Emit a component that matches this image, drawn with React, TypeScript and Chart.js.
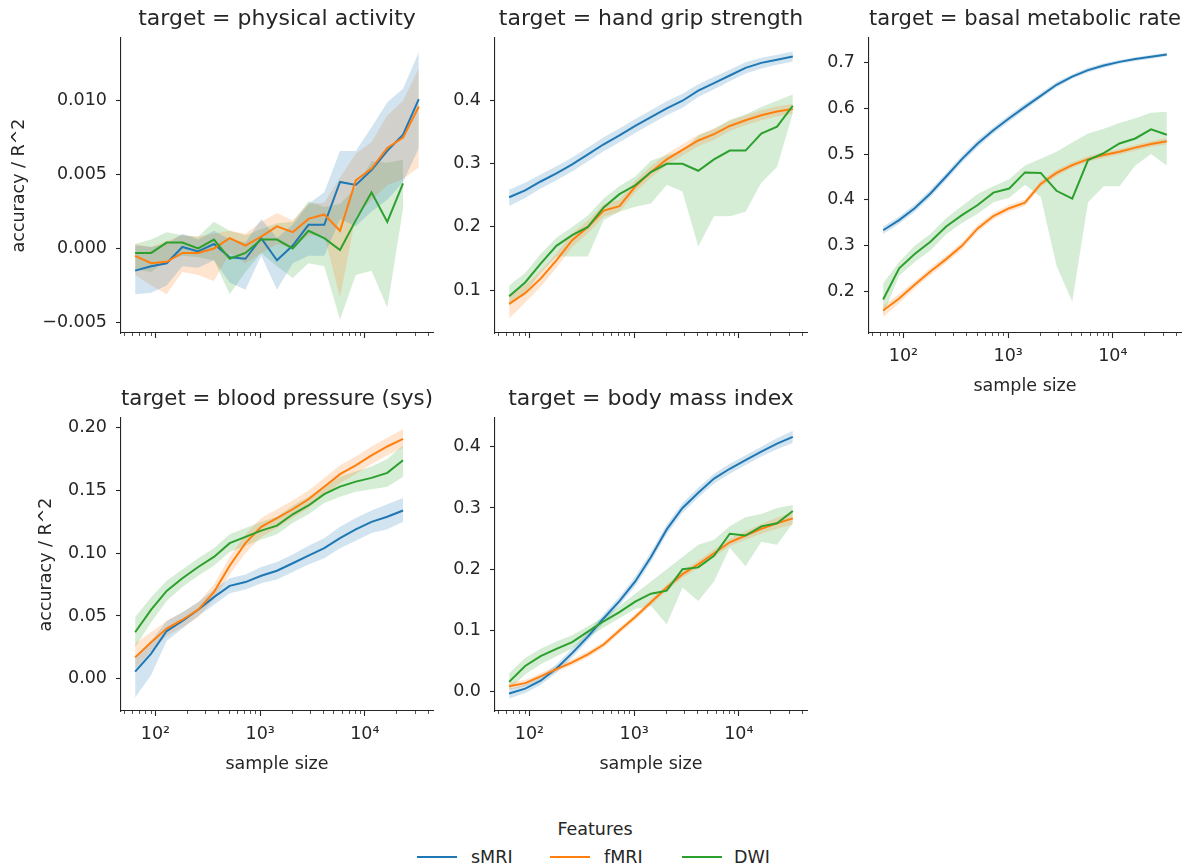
import React, { useEffect, useRef } from 'react';
import { Chart, registerables } from 'chart.js';
Chart.register(...registerables);

const FONT = '"DejaVu Sans", Verdana, sans-serif';
const TEXT = '#262626';
const BLUE = '#1f77b4';
const ORANGE = '#ff7f0e';
const GREEN = '#2ca02c';
const BLUE_BAND = 'rgba(31,119,180,0.2)';
const ORANGE_BAND = 'rgba(255,127,14,0.2)';
const GREEN_BAND = 'rgba(44,160,44,0.2)';

const sampleSizes = [64, 91, 128, 181, 256, 362, 512, 724, 1024, 1448, 2048, 2896, 4096, 5793, 8192, 11585, 16384, 23170, 32768];
const xMajorTicks = [100, 1000, 10000];
const xMajorLabels = ['10²', '10³', '10⁴'];
const xMinorTicks = [50, 60, 70, 80, 90, 200, 300, 400, 500, 600, 700, 800, 900, 2000, 3000, 4000, 5000, 6000, 7000, 8000, 9000, 20000, 30000, 40000];
const seriesNames = ['sMRI', 'fMRI', 'DWI'];

// physical activity
const paTicks = [-0.005, 0.0, 0.005, 0.01];
const paTickLabels = ['−0.005', '0.000', '0.005', '0.010'];
const paSmri = [-0.0015, -0.0012, -0.0010, 0.0001, -0.0002, 0.0003, -0.0006, -0.0007, 0.0007, -0.0008, 0.0002, 0.0016, 0.0016, 0.0045, 0.0043, 0.0053, 0.0066, 0.0077, 0.0101];
const paSmriLo = [-0.0031, -0.0030, -0.0025, -0.0012, -0.0013, -0.0008, -0.0023, -0.0028, -0.0005, -0.0028, -0.0010, -0.0005, -0.0005, 0.0020, 0.0015, 0.0025, 0.0033, 0.0045, 0.0068];
const paSmriHi = [0.0002, 0.0001, 0.0003, 0.0010, 0.0006, 0.0012, 0.0006, 0.0004, 0.0020, 0.0007, 0.0016, 0.0030, 0.0038, 0.0066, 0.0066, 0.0082, 0.0099, 0.0108, 0.0133];
const paFmri = [-0.0005, -0.0010, -0.0009, -0.0003, -0.0003, 0.0000, 0.0007, 0.0002, 0.0008, 0.0015, 0.0011, 0.0020, 0.0023, 0.0012, 0.0046, 0.0054, 0.0068, 0.0075, 0.0096];
const paFmriLo = [-0.0018, -0.0025, -0.0031, -0.0016, -0.0018, -0.0022, -0.0003, -0.0010, -0.0003, 0.0003, 0.0000, 0.0009, 0.0009, -0.0033, 0.0022, 0.0033, 0.0043, 0.0047, 0.0055];
const paFmriHi = [0.0003, 0.0001, 0.0005, 0.0009, 0.0008, 0.0010, 0.0012, 0.0010, 0.0018, 0.0024, 0.0019, 0.0030, 0.0031, 0.0048, 0.0064, 0.0072, 0.0090, 0.0100, 0.0122];
const paDwi = [-0.0003, -0.0003, 0.0004, 0.0004, 0.0000, 0.0006, -0.0007, -0.0003, 0.0006, 0.0006, 0.0000, 0.0012, 0.0007, -0.0001, 0.0019, 0.0038, 0.0018, 0.0044];
const paDwiLo = [-0.0014, -0.0016, -0.0008, -0.0005, -0.0006, -0.0008, -0.0031, -0.0016, -0.0003, -0.0012, -0.0020, -0.0010, -0.0012, -0.0048, -0.0018, -0.0015, -0.0040, 0.0027];
const paDwiHi = [0.0003, 0.0006, 0.0011, 0.0009, 0.0008, 0.0018, 0.0012, 0.0009, 0.0013, 0.0017, 0.0018, 0.0032, 0.0028, 0.0030, 0.0041, 0.0059, 0.0058, 0.0060];

// hand grip strength
const hgsTicks = [0.1, 0.2, 0.3, 0.4];
const hgsTickLabels = ['0.1', '0.2', '0.3', '0.4'];
const hgsSmri = [0.247, 0.258, 0.272, 0.285, 0.299, 0.315, 0.331, 0.345, 0.360, 0.374, 0.388, 0.400, 0.416, 0.428, 0.440, 0.452, 0.460, 0.465, 0.470];
const hgsSmriLo = [0.233, 0.246, 0.261, 0.274, 0.288, 0.304, 0.320, 0.334, 0.349, 0.363, 0.377, 0.389, 0.406, 0.418, 0.431, 0.443, 0.451, 0.457, 0.462];
const hgsSmriHi = [0.259, 0.270, 0.283, 0.296, 0.310, 0.326, 0.342, 0.356, 0.371, 0.385, 0.399, 0.411, 0.426, 0.438, 0.449, 0.461, 0.468, 0.473, 0.478];
const hgsFmri = [0.078, 0.095, 0.118, 0.147, 0.179, 0.200, 0.226, 0.233, 0.264, 0.287, 0.307, 0.322, 0.337, 0.347, 0.360, 0.369, 0.377, 0.383, 0.387];
const hgsFmriLo = [0.055, 0.080, 0.105, 0.135, 0.168, 0.190, 0.216, 0.224, 0.255, 0.278, 0.298, 0.313, 0.328, 0.338, 0.352, 0.361, 0.369, 0.375, 0.379];
const hgsFmriHi = [0.092, 0.108, 0.130, 0.158, 0.190, 0.210, 0.236, 0.243, 0.273, 0.296, 0.316, 0.331, 0.346, 0.356, 0.368, 0.377, 0.385, 0.391, 0.395];
const hgsDwi = [0.090, 0.112, 0.142, 0.170, 0.187, 0.200, 0.231, 0.252, 0.266, 0.287, 0.300, 0.300, 0.289, 0.307, 0.321, 0.321, 0.348, 0.359, 0.392];
const hgsDwiLo = [0.075, 0.095, 0.127, 0.153, 0.153, 0.153, 0.211, 0.224, 0.232, 0.237, 0.267, 0.256, 0.169, 0.217, 0.217, 0.224, 0.270, 0.295, 0.380];
const hgsDwiHi = [0.107, 0.127, 0.157, 0.183, 0.200, 0.218, 0.245, 0.265, 0.280, 0.305, 0.314, 0.320, 0.345, 0.355, 0.370, 0.378, 0.390, 0.400, 0.410];

// basal metabolic rate
const bmrTicks = [0.2, 0.3, 0.4, 0.5, 0.6, 0.7];
const bmrTickLabels = ['0.2', '0.3', '0.4', '0.5', '0.6', '0.7'];
const bmrSmri = [0.334, 0.356, 0.382, 0.414, 0.451, 0.489, 0.523, 0.552, 0.578, 0.603, 0.627, 0.651, 0.669, 0.683, 0.693, 0.701, 0.707, 0.712, 0.717];
const bmrSmriLo = [0.326, 0.348, 0.374, 0.406, 0.443, 0.481, 0.515, 0.545, 0.571, 0.596, 0.621, 0.645, 0.664, 0.678, 0.688, 0.697, 0.703, 0.708, 0.713];
const bmrSmriHi = [0.342, 0.364, 0.390, 0.422, 0.459, 0.497, 0.531, 0.559, 0.585, 0.610, 0.633, 0.657, 0.674, 0.688, 0.698, 0.705, 0.711, 0.716, 0.721];
const bmrFmri = [0.159, 0.185, 0.215, 0.244, 0.271, 0.300, 0.338, 0.365, 0.382, 0.394, 0.435, 0.459, 0.476, 0.489, 0.498, 0.505, 0.514, 0.522, 0.528];
const bmrFmriLo = [0.145, 0.175, 0.207, 0.236, 0.263, 0.292, 0.330, 0.358, 0.375, 0.387, 0.428, 0.452, 0.470, 0.483, 0.492, 0.499, 0.508, 0.516, 0.521];
const bmrFmriHi = [0.170, 0.195, 0.223, 0.252, 0.279, 0.308, 0.346, 0.372, 0.389, 0.401, 0.442, 0.466, 0.482, 0.495, 0.504, 0.511, 0.520, 0.528, 0.535];
const bmrDwi = [0.183, 0.251, 0.282, 0.309, 0.342, 0.367, 0.389, 0.416, 0.425, 0.460, 0.459, 0.420, 0.403, 0.487, 0.502, 0.523, 0.534, 0.554, 0.542];
const bmrDwiLo = [0.150, 0.235, 0.265, 0.290, 0.325, 0.350, 0.370, 0.395, 0.405, 0.433, 0.407, 0.257, 0.178, 0.395, 0.430, 0.430, 0.475, 0.500, 0.475];
const bmrDwiHi = [0.218, 0.265, 0.300, 0.326, 0.360, 0.387, 0.413, 0.430, 0.445, 0.475, 0.490, 0.505, 0.525, 0.545, 0.555, 0.568, 0.578, 0.590, 0.592];

// blood pressure (sys)
const bpTicks = [0.0, 0.05, 0.1, 0.15, 0.2];
const bpTickLabels = ['0.00', '0.05', '0.10', '0.15', '0.20'];
const bpSmri = [0.0056, 0.020, 0.038, 0.046, 0.055, 0.065, 0.074, 0.077, 0.082, 0.086, 0.092, 0.098, 0.104, 0.112, 0.119, 0.125, 0.129, 0.134];
const bpSmriLo = [-0.015, 0.003, 0.030, 0.040, 0.050, 0.059, 0.068, 0.071, 0.076, 0.079, 0.085, 0.091, 0.096, 0.104, 0.110, 0.116, 0.119, 0.125];
const bpSmriHi = [0.018, 0.030, 0.046, 0.053, 0.061, 0.071, 0.080, 0.083, 0.089, 0.093, 0.099, 0.106, 0.112, 0.121, 0.128, 0.134, 0.139, 0.144];
const bpFmri = [0.017, 0.029, 0.040, 0.047, 0.055, 0.069, 0.090, 0.108, 0.121, 0.128, 0.135, 0.143, 0.153, 0.163, 0.170, 0.178, 0.185, 0.191];
const bpFmriLo = [0.008, 0.022, 0.034, 0.041, 0.049, 0.063, 0.083, 0.100, 0.113, 0.120, 0.128, 0.136, 0.146, 0.156, 0.163, 0.171, 0.178, 0.184];
const bpFmriHi = [0.028, 0.037, 0.046, 0.053, 0.061, 0.075, 0.097, 0.115, 0.128, 0.135, 0.142, 0.150, 0.160, 0.170, 0.177, 0.185, 0.192, 0.199];
const bpDwi = [0.037, 0.055, 0.070, 0.080, 0.089, 0.097, 0.108, 0.113, 0.118, 0.122, 0.131, 0.138, 0.147, 0.153, 0.157, 0.160, 0.164, 0.174];
const bpDwiLo = [0.025, 0.045, 0.062, 0.073, 0.082, 0.090, 0.101, 0.106, 0.111, 0.115, 0.124, 0.131, 0.140, 0.145, 0.149, 0.151, 0.153, 0.161];
const bpDwiHi = [0.049, 0.065, 0.078, 0.087, 0.096, 0.104, 0.115, 0.120, 0.125, 0.129, 0.138, 0.145, 0.154, 0.161, 0.165, 0.169, 0.175, 0.186];

// body mass index
const bmiTicks = [0.0, 0.1, 0.2, 0.3, 0.4];
const bmiTickLabels = ['0.0', '0.1', '0.2', '0.3', '0.4'];
const bmiSmri = [-0.003, 0.005, 0.018, 0.038, 0.063, 0.090, 0.120, 0.148, 0.180, 0.220, 0.265, 0.300, 0.325, 0.348, 0.364, 0.378, 0.392, 0.405, 0.416];
const bmiSmriLo = [-0.011, -0.002, 0.011, 0.031, 0.056, 0.083, 0.113, 0.141, 0.172, 0.212, 0.257, 0.292, 0.317, 0.340, 0.356, 0.370, 0.384, 0.396, 0.406];
const bmiSmriHi = [0.005, 0.012, 0.025, 0.045, 0.070, 0.097, 0.127, 0.155, 0.188, 0.228, 0.273, 0.308, 0.333, 0.356, 0.372, 0.386, 0.400, 0.414, 0.426];
const bmiFmri = [0.009, 0.014, 0.025, 0.037, 0.048, 0.061, 0.077, 0.100, 0.122, 0.146, 0.170, 0.192, 0.208, 0.226, 0.244, 0.255, 0.266, 0.275, 0.283];
const bmiFmriLo = [0.003, 0.009, 0.020, 0.032, 0.043, 0.056, 0.072, 0.095, 0.117, 0.141, 0.165, 0.186, 0.202, 0.220, 0.238, 0.248, 0.258, 0.266, 0.273];
const bmiFmriHi = [0.015, 0.019, 0.030, 0.042, 0.053, 0.066, 0.082, 0.105, 0.127, 0.151, 0.175, 0.198, 0.214, 0.232, 0.250, 0.262, 0.274, 0.284, 0.293];
const bmiDwi = [0.016, 0.042, 0.058, 0.070, 0.081, 0.098, 0.115, 0.130, 0.147, 0.160, 0.165, 0.200, 0.203, 0.222, 0.258, 0.255, 0.270, 0.275, 0.295];
const bmiDwiLo = [0.003, 0.028, 0.045, 0.058, 0.070, 0.088, 0.105, 0.120, 0.135, 0.140, 0.110, 0.170, 0.148, 0.180, 0.235, 0.205, 0.245, 0.240, 0.275];
const bmiDwiHi = [0.030, 0.055, 0.070, 0.082, 0.092, 0.107, 0.122, 0.140, 0.160, 0.180, 0.200, 0.220, 0.240, 0.248, 0.270, 0.285, 0.290, 0.300, 0.305];

const Y_W = 113;
const TOP_SPACE = 38;
const X_H = 64;
const PLOT_W = 312;
const RIGHT_PAD = 12;

type Triple = { mean: number[]; lo: number[]; hi: number[] };
type Panel = {
  title: string; left: number; top: number; bottom: number;
  yMin: number; yMax: number; yTicks: number[]; yTickLabels: string[];
  series: Triple[]; showX: boolean; showYTitle: boolean; yTitlePad: number;
};

const panels: Panel[] = [
  { title: 'target = physical activity', left: 121, top: 38, bottom: 333, yMin: -0.00572, yMax: 0.01424, yTicks: paTicks, yTickLabels: paTickLabels,
    series: [{ mean: paSmri, lo: paSmriLo, hi: paSmriHi }, { mean: paFmri, lo: paFmriLo, hi: paFmriHi }, { mean: paDwi, lo: paDwiLo, hi: paDwiHi }],
    showX: false, showYTitle: true, yTitlePad: 1 },
  { title: 'target = hand grip strength', left: 495, top: 38, bottom: 333, yMin: 0.0319, yMax: 0.4994, yTicks: hgsTicks, yTickLabels: hgsTickLabels,
    series: [{ mean: hgsSmri, lo: hgsSmriLo, hi: hgsSmriHi }, { mean: hgsFmri, lo: hgsFmriLo, hi: hgsFmriHi }, { mean: hgsDwi, lo: hgsDwiLo, hi: hgsDwiHi }],
    showX: false, showYTitle: false, yTitlePad: 0 },
  { title: 'target = basal metabolic rate', left: 869, top: 38, bottom: 333, yMin: 0.110, yMax: 0.753, yTicks: bmrTicks, yTickLabels: bmrTickLabels,
    series: [{ mean: bmrSmri, lo: bmrSmriLo, hi: bmrSmriHi }, { mean: bmrFmri, lo: bmrFmriLo, hi: bmrFmriHi }, { mean: bmrDwi, lo: bmrDwiLo, hi: bmrDwiHi }],
    showX: true, showYTitle: false, yTitlePad: 0 },
  { title: 'target = blood pressure (sys)', left: 121, top: 418, bottom: 711, yMin: -0.0257, yMax: 0.2077, yTicks: bpTicks, yTickLabels: bpTickLabels,
    series: [{ mean: bpSmri, lo: bpSmriLo, hi: bpSmriHi }, { mean: bpFmri, lo: bpFmriLo, hi: bpFmriHi }, { mean: bpDwi, lo: bpDwiLo, hi: bpDwiHi }],
    showX: true, showYTitle: true, yTitlePad: 28 },
  { title: 'target = body mass index', left: 495, top: 418, bottom: 711, yMin: -0.0315, yMax: 0.4469, yTicks: bmiTicks, yTickLabels: bmiTickLabels,
    series: [{ mean: bmiSmri, lo: bmiSmriLo, hi: bmiSmriHi }, { mean: bmiFmri, lo: bmiFmriLo, hi: bmiFmriHi }, { mean: bmiDwi, lo: bmiDwiLo, hi: bmiDwiHi }],
    showX: true, showYTitle: false, yTitlePad: 0 },
];

const lineColors = [BLUE, ORANGE, GREEN];
const bandColors = [BLUE_BAND, ORANGE_BAND, GREEN_BAND];

const minorTickPlugin = {
  id: 'minorTicks',
  afterDraw(chart: any) {
    const xs = chart.scales.x;
    const ctx = chart.ctx;
    const y0 = chart.chartArea.bottom;
    ctx.save();
    ctx.strokeStyle = TEXT;
    ctx.lineWidth = 0.8;
    for (const v of xMinorTicks) {
      const px = xs.getPixelForValue(v);
      if (px < xs.left - 0.5 || px > xs.right + 0.5) continue;
      const x = Math.round(px) + 0.5;
      ctx.beginPath();
      ctx.moveTo(x, y0);
      ctx.lineTo(x, y0 + 3);
      ctx.stroke();
    }
    ctx.restore();
  },
};

function toPts(vals: number[]) {
  return vals.map((v, i) => ({ x: sampleSizes[i], y: v }));
}

function PanelChart({ p }: { p: Panel }) {
  const ref = useRef<HTMLCanvasElement | null>(null);
  const width = Y_W + PLOT_W + RIGHT_PAD;
  const height = TOP_SPACE + (p.bottom - p.top) + X_H;
  useEffect(() => {
    if (!ref.current) return;
    const datasets: any[] = [];
    p.series.forEach((s, k) => {
      datasets.push({ label: seriesNames[k] + ' lo', data: toPts(s.lo), borderWidth: 0, pointRadius: 0, fill: false, order: 20 + k, backgroundColor: bandColors[k], borderColor: 'rgba(0,0,0,0)', tension: 0 });
      datasets.push({ label: seriesNames[k] + ' hi', data: toPts(s.hi), borderWidth: 0, pointRadius: 0, fill: '-1', order: 20 + k, backgroundColor: bandColors[k], borderColor: 'rgba(0,0,0,0)', tension: 0 });
      datasets.push({ label: seriesNames[k], data: toPts(s.mean), borderWidth: 2, pointRadius: 0, fill: false, order: 3 - k, borderColor: lineColors[k], backgroundColor: lineColors[k], tension: 0 });
    });
    const tickFont = { family: FONT, size: 17.5 };
    const chart = new Chart(ref.current, {
      type: 'line',
      data: { datasets },
      plugins: [minorTickPlugin],
      options: {
        animation: false,
        responsive: false,
        devicePixelRatio: 1,
        events: [],
        layout: { padding: { left: 0, right: RIGHT_PAD, top: 0, bottom: 0 } },
        plugins: {
          legend: { display: false },
          tooltip: { enabled: false },
          title: {
            display: true, text: p.title, fullSize: false, color: TEXT,
            font: { family: FONT, size: 22, weight: 'normal', lineHeight: '24px' } as any,
            padding: { top: 7, bottom: 7 },
          },
        },
        scales: {
          x: {
            type: 'logarithmic', min: 46.9, max: 44770,
            afterBuildTicks: (s: any) => { s.ticks = xMajorTicks.map((v) => ({ value: v })); },
            afterFit: (s: any) => { s.height = X_H; },
            ticks: {
              display: p.showX, autoSkip: false, maxRotation: 0, minRotation: 0, padding: 8,
              color: TEXT, font: tickFont,
              callback: (_v: any, i: number) => xMajorLabels[i],
            },
            grid: { display: true, drawOnChartArea: false, drawTicks: true, tickLength: 5, tickColor: TEXT, tickWidth: 1.1 },
            border: { display: true, color: TEXT, width: 1.1 },
            title: { display: p.showX, text: 'sample size', color: TEXT, font: { family: FONT, size: 17.5 }, padding: 0 },
          },
          y: {
            type: 'linear', min: p.yMin, max: p.yMax,
            afterBuildTicks: (s: any) => { s.ticks = p.yTicks.map((v) => ({ value: v })); },
            afterFit: (s: any) => { s.width = Y_W; },
            ticks: {
              padding: 9, color: TEXT, font: tickFont, autoSkip: false,
              callback: (_v: any, i: number) => p.yTickLabels[i],
            },
            grid: { display: true, drawOnChartArea: false, drawTicks: true, tickLength: 5, tickColor: TEXT, tickWidth: 1.1 },
            border: { display: true, color: TEXT, width: 1.1 },
            title: { display: p.showYTitle, text: 'accuracy / R^2', color: TEXT, font: { family: FONT, size: 17.5 }, padding: { top: p.yTitlePad, bottom: 0 } },
          },
        },
      } as any,
    });
    return () => chart.destroy();
  }, [p]);
  return (
    <canvas
      ref={ref}
      width={width}
      height={height}
      style={{ position: 'absolute', left: p.left - Y_W, top: p.top - TOP_SPACE, width, height }}
    />
  );
}

const legendItems = [
  { name: 'sMRI', color: BLUE, lineX: 417, textX: 471 },
  { name: 'fMRI', color: ORANGE, lineX: 550, textX: 604 },
  { name: 'DWI', color: GREEN, lineX: 682, textX: 734 },
];

export default function App() {
  return (
    <div style={{ position: 'absolute', left: 0, top: 0, width: 1201, height: 868, background: '#fff', fontFamily: FONT, color: TEXT }}>
      {panels.map((p, i) => <PanelChart key={i} p={p} />)}
      <div style={{ position: 'absolute', left: 495, width: 200, top: 819, textAlign: 'center', fontSize: 17.5, lineHeight: '20px', whiteSpace: 'nowrap' }}>Features</div>
      {legendItems.map((it) => (
        <React.Fragment key={it.name}>
          <div style={{ position: 'absolute', left: it.lineX, top: 856, width: 40, height: 2, background: it.color }} />
          <div style={{ position: 'absolute', left: it.textX, top: 847, fontSize: 17.5, lineHeight: '20px', whiteSpace: 'nowrap' }}>{it.name}</div>
        </React.Fragment>
      ))}
    </div>
  );
}
